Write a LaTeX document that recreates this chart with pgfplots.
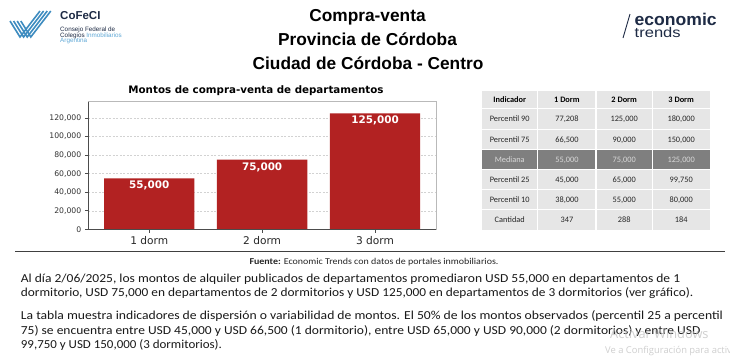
\documentclass[border=0pt]{standalone}
\usepackage{fontspec}
\setmainfont{Liberation Sans}
\newfontfamily\dejavu{DejaVu Sans}
\newfontfamily\carlito{Carlito}
\newfontfamily\osans{Open Sans}
\usepackage{pgfplots}
\pgfplotsset{compat=1.18}
\definecolor{barred}{HTML}{B22222}
\definecolor{navy}{HTML}{1E2B45}
\definecolor{cofeblue}{HTML}{3E8CC0}
\definecolor{lightblue}{HTML}{5FA8D6}
\definecolor{tgray}{HTML}{E6E6E6}
\definecolor{tdark}{HTML}{7F7F7F}
\newcommand\fs[1]{\fontsize{#1}{#1}\selectfont}
\newcommand\pline[3]{\node[anchor=base west, inner sep=0, font=\carlito\fs{12.2}, text=black!90] at (20.7,#1) {\resizebox{#2pt}{\height}{#3}};}
\newcommand\trow[6]{%
  \node[anchor=base, inner sep=0, text=#2] at (509.7,#1) {#3};
  \node[anchor=base, inner sep=0, text=#2] at (566.9,#1) {#4};
  \node[anchor=base, inner sep=0, text=#2] at (624.2,#1) {#5};
  \node[anchor=base, inner sep=0, text=#2] at (681.2,#1) {#6};}
\begin{document}
\begin{tikzpicture}[x=1pt,y=-1pt]
\useasboundingbox (0,0) rectangle (730,360);
\fill[white] (0,0) rectangle (730,360);
% --- CoFeCI logo
\foreach \k in {0,1,2,3} {
  \draw[cofeblue, line width=1.6pt] ({10+3.6*\k},21) -- ({20+3.6*\k},37) -- ({40+3.6*\k},11);
}
\node[anchor=west, inner sep=0, font=\bfseries\fs{11.5}, text=navy] at (60,16) {CoFeCI};
\node[anchor=west, inner sep=0, font=\fs{6.3}, text=navy] at (60,30) {Consejo Federal de};
\node[anchor=west, inner sep=0, font=\fs{6.3}, text=navy] at (60,35.4) {Colegios \textcolor{lightblue}{Inmobiliarios}};
\node[anchor=west, inner sep=0, font=\fs{6.3}, text=lightblue] at (60,40.8) {Argentina};
% --- economic trends logo
\draw[navy, line width=0.9pt] (623,38) -- (630,14);
\node[anchor=base west, inner sep=0, font=\bfseries\fs{17}, text=navy] at (634.5,25.3) {\resizebox{82pt}{\height}{economic}};
\node[anchor=base west, inner sep=0, font=\fs{14}, text=navy] at (634.5,37.5) {\resizebox{46pt}{\height}{trends}};
% --- titles
\node[anchor=base, inner sep=0, font=\bfseries\fs{17.3}] at (367.5,21.7) {Compra-venta};
\node[anchor=base, inner sep=0, font=\bfseries\fs{17.3}] at (367.5,45.7) {Provincia de Córdoba};
\node[anchor=base, inner sep=0, font=\bfseries\fs{17.3}] at (368,69) {Ciudad de Córdoba - Centro};
% --- chart title
\node[anchor=base, inner sep=0, font=\dejavu\bfseries\fs{10.3}] at (256,93.3) {Montos de compra-venta de departamentos};
% --- chart
\begin{axis}[
  at={(88.3pt,-229.3pt)}, anchor=south west,
  scale only axis, width=347.7pt, height=127.6pt,
  xmin=-0.54, xmax=2.54, ymin=0, ymax=137500,
  ybar, bar width=0.8,
  xtick={0,1,2}, xticklabels={1 dorm,2 dorm,3 dorm},
  ytick={0,20000,40000,60000,80000,100000,120000},
  yticklabels={0,{20,000},{40,000},{60,000},{80,000},{100,000},{120,000}},
  scaled y ticks=false,
  yticklabel style={font=\dejavu\fs{7.7}, text=black!80},
  xticklabel style={font=\dejavu\fs{10.6}, text=black!85},
  tick align=outside, major tick length=3.5pt,
  tick style={black!70, line width=0.6pt},
  tick pos=left,
  ymajorgrids, grid style={dash pattern=on 2pt off 1.5pt, gray!35, line width=0.4pt},
  axis line style={gray!55, line width=0.6pt},
  point meta=explicit symbolic,
  nodes near coords,
  every node near coord/.append style={font=\dejavu\bfseries\fs{10.4}, text=white, anchor=center, yshift=-7.5pt},
  clip=false,
]
\addplot[fill=barred, draw=none] coordinates {(0,55000) [55,000] (1,75000) [75,000] (2,125000) [125,000]};
\draw[black!70, line width=0.7pt] (rel axis cs:0,1) -- (rel axis cs:0,0) -- (rel axis cs:1,0);
\end{axis}
% --- table
\fill[tgray] (481.7,91) rectangle (710,230);
\fill[tdark] (481.7,149.3) rectangle (710,169.3);
\foreach \xx in {537.7,596,652.3} \draw[white, line width=1.3pt] (\xx,91) -- (\xx,230);
\foreach \yy in {108.6,129.3,149.3,169.3,189.3,209.3} \draw[white, line width=1.3pt] (481.7,\yy) -- (710,\yy);
\begin{scope}[font=\carlito\fs{8.3}]
\trow{102.4}{black}{\textbf{Indicador}}{\textbf{1 Dorm}}{\textbf{2 Dorm}}{\textbf{3 Dorm}}
\trow{121.7}{black!85}{Percentil 90}{77,208}{125,000}{180,000}
\trow{142}{black!85}{Percentil 75}{66,500}{90,000}{150,000}
\trow{162.2}{black!15}{Mediana}{55,000}{75,000}{125,000}
\trow{182}{black!85}{Percentil 25}{45,000}{65,000}{99,750}
\trow{202}{black!85}{Percentil 10}{38,000}{55,000}{80,000}
\trow{222.3}{black!85}{Cantidad}{347}{288}{184}
\end{scope}
% --- rule and source
\draw[black!75, line width=0.8pt] (15,251) -- (725,251);
\node[anchor=base west, inner sep=0, font=\carlito\fs{9}, text=black!85] at (249.3,264.3) {\resizebox{249pt}{\height}{\textbf{Fuente:} Economic Trends con datos de portales inmobiliarios.}};
% --- paragraphs
\pline{282.3}{659.3}{Al día 2/06/2025, los montos de alquiler publicados de departamentos promediaron USD 55,000 en departamentos de 1}
\pline{296.7}{672.3}{dormitorio, USD 75,000 en departamentos de 2 dormitorios y USD 125,000 en departamentos de 3 dormitorios (ver gráfico).}
\pline{319}{702}{La tabla muestra indicadores de dispersión o variabilidad de montos. El 50\% de los montos observados (percentil 25 a percentil}
\pline{334}{679.3}{75) se encuentra entre USD 45,000 y USD 66,500 (1 dormitorio), entre USD 65,000 y USD 90,000 (2 dormitorios) y entre USD}
\pline{348.3}{201}{99,750 y USD 150,000 (3 dormitorios).}
% --- watermark
\node[anchor=base west, inner sep=0, font=\osans\fs{12.8}, text=gray!50, opacity=0.75] at (610,338.5) {Activar Windows};
\node[anchor=base west, inner sep=0, font=\osans\fs{9.4}, text=gray!50, opacity=0.75] at (605,353) {Ve a Configuración para activar Windows.};
\end{tikzpicture}
\end{document}
